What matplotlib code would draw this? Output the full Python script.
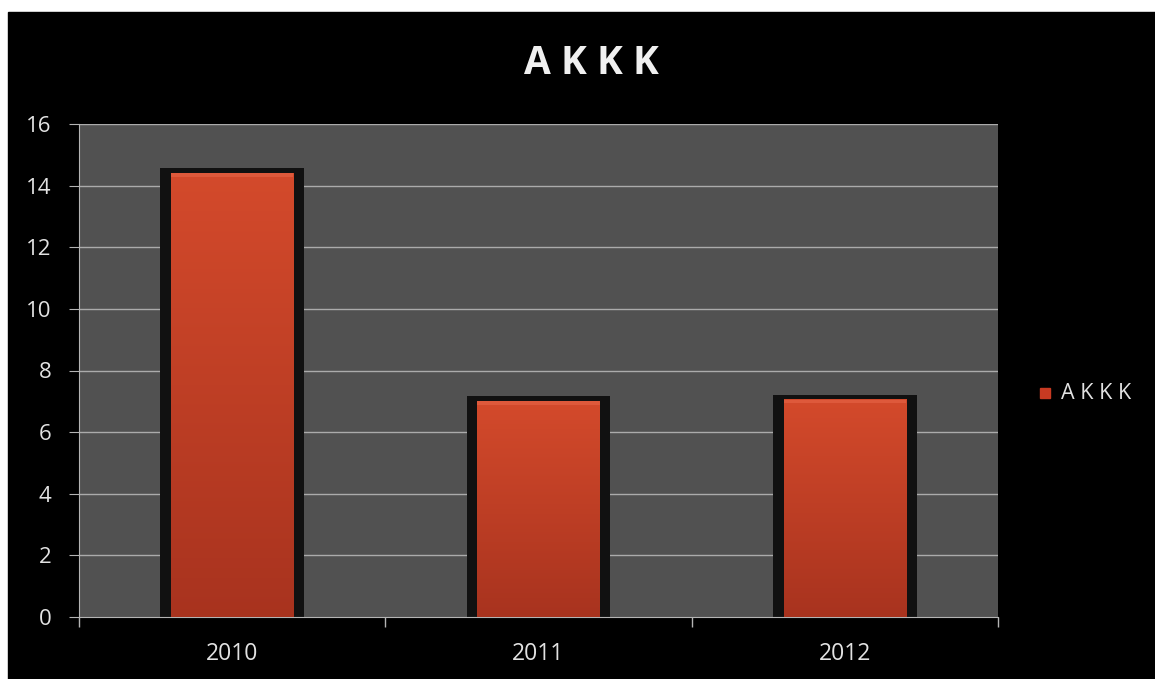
import matplotlib.pyplot as plt
from matplotlib.patches import Rectangle
import numpy as np

# - DATA -
years = ["2010", "2011", "2012"]
values = [14.4, 7.0, 7.05]
series_name = "AKKK"
y_ticks = [0, 2, 4, 6, 8, 10, 12, 14, 16]
# - DATA -

plt.rcParams["font.family"] = ["Open Sans", "DejaVu Sans"]

W, H = 1155, 679
fig = plt.figure(figsize=(W / 100, H / 100), dpi=100, facecolor="white")

# black chart panel (white scan margin on top/left)
fig.patches.append(Rectangle((8 / W, 0), 1 - 8 / W, 1 - 12 / H,
                             transform=fig.transFigure, color="black", zorder=-5))

ax = fig.add_axes([79 / W, 1 - 617 / H, 919 / W, 493 / H], zorder=2)
ax.set_facecolor("#515151")

for y in y_ticks[1:]:
    ax.axhline(y, color="#ababab", lw=1.0, zorder=1)

bar_w = 0.40
grad = np.linspace(0, 1, 256).reshape(-1, 1)
top_c = np.array([0.83, 0.29, 0.17])
bot_c = np.array([0.66, 0.20, 0.12])
img = (bot_c + (top_c - bot_c) * grad).reshape(256, 1, 3)  # row 0 = bottom

for i, v in enumerate(values):
    # dark shadow behind each bar
    ax.add_patch(Rectangle((i - 0.235, 0), 0.47, v + 0.17,
                           facecolor="#111111", edgecolor="none", zorder=2))
    ax.imshow(img, extent=(i - bar_w / 2, i + bar_w / 2, 0, v),
              origin="lower", aspect="auto", zorder=3, interpolation="bilinear")
    # lighter bevel at the top edge
    ax.add_patch(Rectangle((i - bar_w / 2, v - 0.12), bar_w, 0.12,
                           facecolor="#e8684a", edgecolor="none", alpha=0.55, zorder=4))

ax.set_xlim(-0.5, len(years) - 0.5)
ax.set_ylim(0, 16)

ax.set_xticks(range(len(years)))
ax.set_xticklabels(years)
ax.set_xticks([i - 0.5 for i in range(len(years) + 1)], minor=True)
ax.tick_params(axis="x", which="major", length=0, pad=18, labelsize=16.5, labelcolor="#e2e2e2")
ax.tick_params(axis="x", which="minor", length=7, color="#b4b4b4", width=1)
ax.set_yticks(y_ticks)
ax.tick_params(axis="y", length=7, color="#b4b4b4", labelsize=16, labelcolor="#e2e2e2", pad=13)

for s in ["top", "right"]:
    ax.spines[s].set_visible(False)
ax.spines["bottom"].set_color("#b4b4b4")
ax.spines["left"].set_color("#b4b4b4")

fig.text(591 / W, 1 - 63 / H, "A K K K", ha="center", va="center",
         fontsize=28, fontweight="bold", color="#f0f0f0")

# legend
fig.patches.append(Rectangle((1040 / W, 1 - 398 / H), 10 / W, 10 / H,
                             transform=fig.transFigure, color="#c83a22", zorder=5))
fig.text(1061 / W, 1 - 393 / H, "A K K K", ha="left", va="center",
         fontsize=15.5, color="#e2e2e2")

plt.savefig("out.png", dpi=100, facecolor=fig.get_facecolor())
